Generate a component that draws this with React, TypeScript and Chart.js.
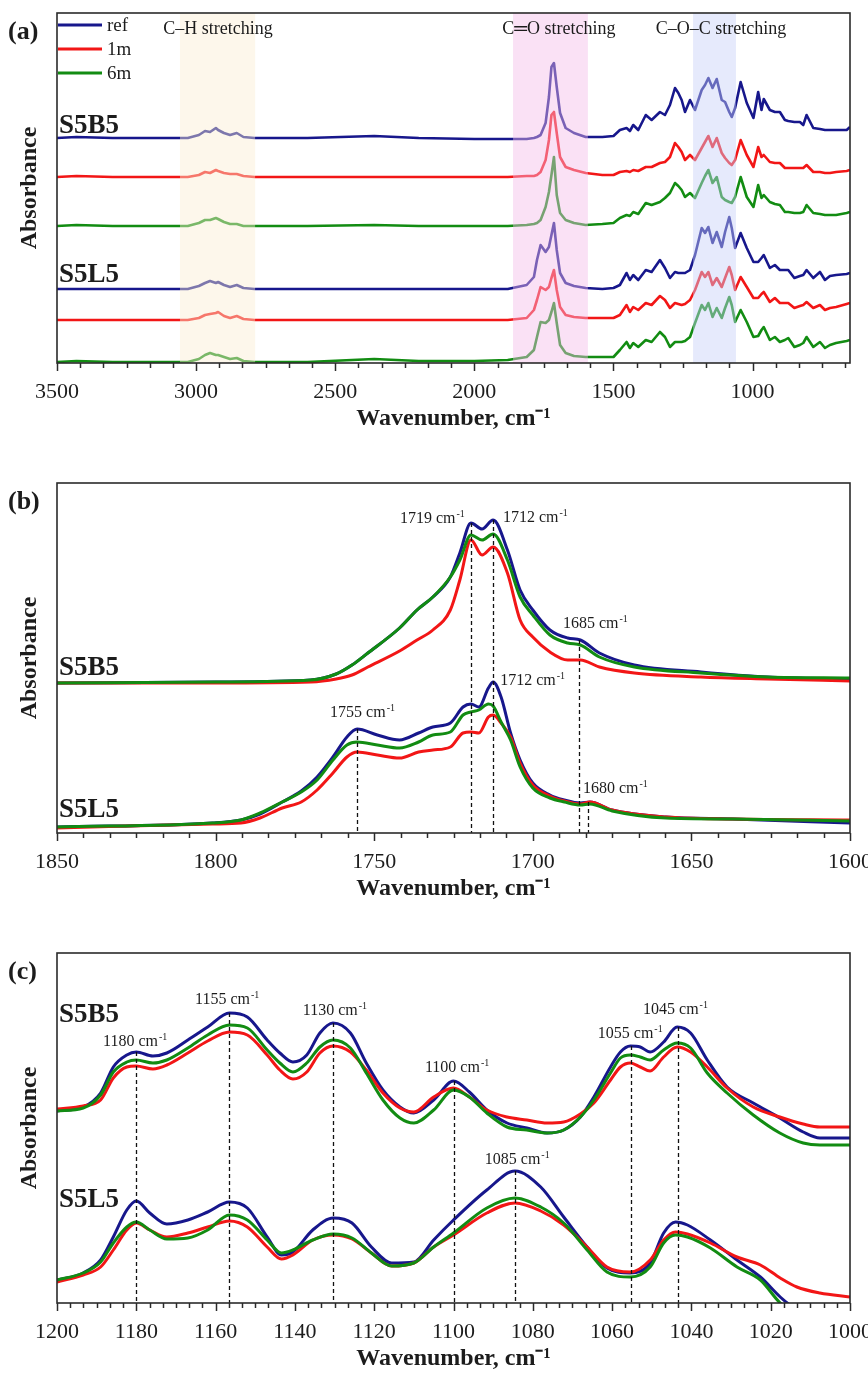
import React, { useEffect, useRef } from 'react';
import { Chart, registerables } from 'chart.js';

Chart.register(...registerables);

const SERIF = "'Liberation Serif', 'Times New Roman', Times, serif";
const INK = '#1c1c1c';

const SERIES_NAMES = ['ref', '1m', '6m'];
const SERIES_COLORS = ['#17178c', '#f21616', '#128c12'];

// ---------- Panel (a): full spectra ----------
const A_X = [3500, 3430, 3300, 3100, 3030, 2990, 2968, 2950, 2929, 2921, 2900, 2878, 2854, 2830, 2790, 2600, 2360, 2200, 2000, 1880, 1812, 1786, 1775, 1762, 1744, 1732, 1723, 1714, 1704, 1692, 1672, 1642, 1600, 1540, 1500, 1477, 1453, 1441, 1429, 1411, 1384, 1363, 1333, 1315, 1297, 1279, 1267, 1255, 1243, 1225, 1207, 1183, 1171, 1159, 1144, 1129, 1111, 1099, 1084, 1075, 1063, 1043, 1021, 997, 980, 968, 960, 938, 920, 902, 884, 872, 850, 830, 818, 806, 782, 758, 740, 722, 700, 662, 650];
const A_S5B5_REF = [2.25,2.26,2.25,2.25,2.25, 2.28,2.32,2.31,2.35,2.33, 2.30,2.28,2.30,2.26,2.25, 2.25,2.27,2.25,2.24,2.24, 2.24,2.25,2.26,2.28,2.40, 2.66,2.96,3.00,2.76,2.50, 2.35,2.30,2.26,2.26,2.27, 2.33,2.35,2.32,2.38,2.33, 2.48,2.43,2.51,2.48,2.58, 2.75,2.70,2.63,2.51,2.63, 2.53,2.73,2.78,2.85,2.75, 2.84,2.63,2.61,2.51,2.46, 2.55,2.81,2.60,2.45,2.71, 2.53,2.64,2.53,2.51,2.51, 2.43,2.42,2.41,2.41,2.38, 2.48,2.35,2.34,2.33,2.33, 2.33,2.33,2.36];
const A_S5B5_1M = [1.86,1.87,1.86,1.86,1.86, 1.88,1.91,1.90,1.93,1.92, 1.90,1.89,1.89,1.87,1.86, 1.86,1.86,1.86,1.86,1.86, 1.87,1.87,1.88,1.91,2.03, 2.23,2.48,2.51,2.30,2.06, 1.96,1.93,1.90,1.88,1.88, 1.91,1.92,1.91,1.93,1.92, 1.96,1.96,2.00,2.01,2.06, 2.20,2.16,2.11,2.03,2.08, 2.03,2.15,2.21,2.27,2.16, 2.25,2.10,2.05,2.00,1.98, 2.03,2.23,2.08,1.96,2.16, 2.06,2.08,2.01,2.00,2.00, 1.95,1.95,1.95,1.95,1.95, 1.98,1.91,1.91,1.90,1.90, 1.91,1.92,1.93];
const A_S5B5_6M = [1.37,1.38,1.37,1.37,1.37, 1.40,1.43,1.43,1.45,1.44, 1.41,1.39,1.39,1.37,1.37, 1.37,1.38,1.37,1.37,1.37, 1.38,1.39,1.40,1.43,1.56, 1.71,1.88,2.06,1.68,1.50, 1.43,1.40,1.38,1.39,1.40, 1.45,1.48,1.47,1.51,1.49, 1.60,1.58,1.61,1.65,1.70, 1.80,1.77,1.73,1.66,1.70, 1.65,1.80,1.87,1.93,1.80, 1.86,1.66,1.63,1.61,1.60, 1.66,1.86,1.66,1.56,1.78, 1.65,1.68,1.61,1.59,1.58, 1.51,1.51,1.50,1.50,1.51, 1.58,1.50,1.49,1.48,1.48, 1.48,1.50,1.51];
const A_S5L5_REF = [0.74,0.74,0.74,0.74,0.74, 0.77,0.80,0.82,0.80,0.81, 0.78,0.76,0.78,0.75,0.74, 0.74,0.74,0.74,0.74,0.74, 0.78,0.86,1.03,1.18,1.11, 1.16,1.28,1.40,1.13,0.90, 0.80,0.77,0.75,0.74,0.75, 0.78,0.90,0.83,0.88,0.83, 0.93,0.91,1.03,0.95,0.85, 0.91,0.90,0.90,0.90,0.93, 1.08,1.35,1.30,1.36,1.20, 1.31,1.16,1.31,1.46,1.35, 1.15,1.30,1.15,1.01,1.01, 1.05,1.08,0.95,0.98,0.93, 0.93,0.93,0.85,0.87,0.88, 0.93,0.85,0.91,0.83,0.87, 0.88,0.89,0.90];
const A_S5L5_1M = [0.43,0.43,0.43,0.43,0.43, 0.45,0.48,0.49,0.50,0.51, 0.47,0.45,0.47,0.44,0.43, 0.43,0.43,0.43,0.43,0.43, 0.45,0.53,0.63,0.76,0.73, 0.76,0.85,0.93,0.73,0.56, 0.48,0.46,0.45,0.45,0.45, 0.48,0.58,0.51,0.56,0.53, 0.60,0.58,0.67,0.63,0.55, 0.60,0.59,0.58,0.59,0.63, 0.73,0.91,0.86,0.91,0.78, 0.85,0.76,0.85,0.96,0.88, 0.73,0.86,0.76,0.65,0.65, 0.69,0.71,0.61,0.65,0.60, 0.60,0.60,0.55,0.57,0.58, 0.61,0.55,0.58,0.53,0.55, 0.56,0.59,0.60];
const A_S5L5_6M = [0.01,0.02,0.01,0.01,0.01, 0.04,0.08,0.10,0.08,0.08, 0.06,0.04,0.05,0.02,0.01, 0.01,0.04,0.02,0.02,0.03, 0.06,0.13,0.26,0.41,0.40, 0.43,0.51,0.60,0.40,0.18, 0.10,0.07,0.06,0.06,0.06, 0.13,0.21,0.15,0.20,0.16, 0.23,0.21,0.31,0.26,0.16, 0.21,0.21,0.21,0.22,0.26, 0.40,0.58,0.53,0.60,0.46, 0.55,0.45,0.55,0.66,0.58, 0.41,0.53,0.41,0.26,0.27, 0.33,0.36,0.23,0.26,0.21, 0.23,0.25,0.16,0.18,0.20, 0.26,0.16,0.21,0.15,0.18, 0.20,0.22,0.23];
const A_TICKS = [3500, 3000, 2500, 2000, 1500, 1000];
const A_BANDS = [
  { label: 'C–H stretching', from: 3058, to: 2788, labelAt: 2921, color: 'rgba(251,237,211,0.45)' },
  { label: 'C═O stretching', from: 1861, to: 1592, labelAt: 1696, color: 'rgba(244,188,233,0.45)' },
  { label: 'C–O–C stretching', from: 1214, to: 1060, labelAt: 1114, color: 'rgba(199,208,248,0.45)' },
];

// ---------- Panel (b): C=O region ----------
const B_X_S5B5 = [1850, 1800, 1770, 1762, 1757, 1752, 1742, 1736.5, 1731.5, 1726, 1723, 1719.5, 1716, 1712.5, 1708, 1704, 1700, 1694.6, 1689, 1685, 1679, 1668, 1647, 1626, 1600];
const B_S5B5_REF = [1.50,1.51,1.53,1.59,1.68,1.80,2.05,2.23,2.36,2.56,2.80,3.10,3.04,3.13,2.83,2.43,2.23,2.03,1.95,1.93,1.80,1.68,1.61,1.56,1.54];
const B_S5B5_1M = [1.50,1.50,1.51,1.54,1.58,1.66,1.82,1.93,2.03,2.23,2.53,2.93,2.78,2.86,2.60,2.13,1.96,1.81,1.73,1.73,1.66,1.60,1.56,1.54,1.52];
const B_S5B5_6M = [1.50,1.51,1.53,1.59,1.68,1.80,2.05,2.23,2.36,2.56,2.73,2.98,2.93,2.99,2.73,2.36,2.18,1.98,1.90,1.88,1.76,1.66,1.60,1.56,1.55];
const B_X_S5L5 = [1850, 1801, 1792, 1786, 1779, 1773, 1768, 1763, 1758.6, 1755.4, 1749, 1742, 1736, 1731.5, 1726, 1722, 1719.5, 1717, 1714, 1712.5, 1710, 1707, 1704, 1700, 1694.6, 1690, 1685, 1682, 1675, 1658, 1637, 1600];
const B_S5L5_REF = [0.06,0.10,0.13,0.19,0.31,0.42,0.56,0.76,0.96,1.04,0.98,0.93,1.00,1.06,1.10,1.26,1.29,1.26,1.45,1.51,1.36,1.00,0.73,0.50,0.38,0.33,0.30,0.31,0.23,0.16,0.14,0.10];
const B_S5L5_1M = [0.05,0.09,0.10,0.15,0.25,0.31,0.43,0.60,0.76,0.81,0.78,0.75,0.81,0.83,0.86,1.00,1.01,1.00,1.16,1.18,1.10,0.96,0.70,0.48,0.37,0.32,0.29,0.31,0.23,0.16,0.14,0.13];
const B_S5L5_6M = [0.06,0.10,0.13,0.20,0.31,0.41,0.53,0.73,0.88,0.91,0.88,0.85,0.91,0.98,1.01,1.18,1.21,1.23,1.29,1.27,1.11,0.93,0.66,0.45,0.35,0.31,0.28,0.29,0.22,0.15,0.14,0.12];
const B_TICKS = [1850, 1800, 1750, 1700, 1650, 1600];
const B_PEAK_LINES = [
  { w: 1719.5, top: 3.10 }, { w: 1712.4, top: 3.13 }, { w: 1685.3, top: 1.93 },
  { w: 1682.7, top: 0.31 }, { w: 1755.4, top: 1.04 },
];
const B_PEAK_LABELS = [
  { text: '1719', w: 1741.9, v: 3.15 }, { text: '1712', w: 1709.4, v: 3.16 },
  { text: '1685', w: 1690.5, v: 2.10 }, { text: '1712', w: 1710.3, v: 1.53 },
  { text: '1680', w: 1684.2, v: 0.45 }, { text: '1755', w: 1763.9, v: 1.21 },
];

// ---------- Panel (c): C–O–C region ----------
const C_X_S5B5 = [1200, 1193.4, 1189, 1185.8, 1182.4, 1180, 1175.8, 1172.3, 1167, 1162, 1156.5, 1152, 1147, 1143.8, 1140.5, 1137, 1133.7, 1130.4, 1126, 1122, 1117.8, 1113.5, 1110, 1105, 1100, 1096, 1091.6, 1086.5, 1081.5, 1076.4, 1072.2, 1068, 1064.6, 1060.4, 1057.9, 1055.4, 1052.9, 1050.4, 1047, 1043.6, 1040.2, 1036, 1031, 1024.4, 1017.7, 1011.8, 1007.6, 1000];
const C_S5B5_REF = [1.92,1.96,2.10,2.36,2.48,2.51,2.47,2.50,2.63,2.76,2.90,2.86,2.63,2.50,2.41,2.48,2.70,2.80,2.70,2.40,2.13,1.96,1.90,2.03,2.22,2.11,1.93,1.80,1.75,1.70,1.73,1.86,2.06,2.36,2.51,2.57,2.56,2.51,2.61,2.76,2.70,2.43,2.16,2.00,1.85,1.71,1.65,1.65];
const C_S5B5_1M = [1.94,1.97,2.03,2.25,2.36,2.37,2.34,2.38,2.50,2.62,2.71,2.68,2.48,2.33,2.24,2.31,2.50,2.57,2.51,2.33,2.10,1.95,1.91,2.06,2.15,2.06,1.93,1.86,1.83,1.80,1.81,1.89,2.00,2.23,2.36,2.40,2.36,2.32,2.46,2.56,2.51,2.36,2.15,1.96,1.86,1.79,1.76,1.76];
const C_S5B5_6M = [1.92,1.95,2.08,2.31,2.41,2.43,2.40,2.43,2.55,2.68,2.78,2.75,2.53,2.40,2.31,2.40,2.56,2.63,2.55,2.30,2.03,1.85,1.80,1.93,2.13,2.06,1.90,1.76,1.73,1.70,1.73,1.86,2.03,2.30,2.45,2.48,2.46,2.43,2.53,2.60,2.55,2.30,2.10,1.88,1.70,1.60,1.58,1.58];
const C_X_S5L5 = [1200, 1193.4, 1189, 1185.8, 1182.4, 1180, 1176.6, 1172.3, 1167, 1162, 1156.5, 1152, 1147, 1143.4, 1140.5, 1135.5, 1130.3, 1125.6, 1120.7, 1115.6, 1110, 1105, 1100, 1091.6, 1084.5, 1078, 1072.2, 1066.3, 1061.3, 1055.4, 1050.4, 1047, 1044, 1041, 1035.2, 1028.5, 1022.6, 1017.6, 1013.4, 1007.6, 1000];
const C_S5L5_REF = [0.23,0.30,0.43,0.66,0.93,1.02,0.90,0.79,0.83,0.91,1.01,0.95,0.66,0.48,0.51,0.73,0.85,0.80,0.56,0.40,0.41,0.63,0.83,1.13,1.32,1.16,0.86,0.56,0.35,0.30,0.40,0.70,0.81,0.78,0.63,0.43,0.26,0.06,-0.07,-0.19,-0.32];
const C_S5L5_1M = [0.21,0.28,0.36,0.53,0.73,0.80,0.73,0.66,0.70,0.76,0.82,0.76,0.56,0.44,0.48,0.63,0.68,0.64,0.50,0.37,0.40,0.56,0.68,0.90,1.00,0.92,0.78,0.56,0.36,0.31,0.43,0.63,0.71,0.69,0.60,0.46,0.38,0.25,0.16,0.10,0.06];
const C_S5L5_6M = [0.23,0.30,0.41,0.60,0.76,0.81,0.73,0.64,0.65,0.73,0.88,0.83,0.63,0.50,0.53,0.63,0.69,0.65,0.50,0.37,0.40,0.56,0.70,0.95,1.05,0.96,0.80,0.53,0.31,0.26,0.36,0.60,0.68,0.66,0.55,0.36,0.23,0.00,-0.12,-0.24,-0.37];
const C_TICKS = [1200, 1180, 1160, 1140, 1120, 1100, 1080, 1060, 1040, 1020, 1000];
const C_PEAK_LINES = [
  { w: 1180, top: 2.51 }, { w: 1156.5, top: 2.90 }, { w: 1130.3, top: 2.80 }, { w: 1100, top: 2.22 },
  { w: 1084.5, top: 1.32 }, { w: 1055.2, top: 2.57 }, { w: 1043.5, top: 2.76 },
];
const C_PEAK_LABELS = [
  { text: '1180', w: 1188.4, v: 2.62 }, { text: '1155', w: 1165.2, v: 3.04 }, { text: '1130', w: 1138.0, v: 2.93 },
  { text: '1100', w: 1107.2, v: 2.36 }, { text: '1085', w: 1092.1, v: 1.44 }, { text: '1055', w: 1063.6, v: 2.70 },
  { text: '1045', w: 1052.2, v: 2.94 },
];

type Group = { sample: string; x: number[]; values: number[][]; labelV: number };
type Spec = {
  letter: string; min: number; max: number; ticks: number[]; lineWidth: number; smooth: boolean;
  groups: Group[]; bands?: typeof A_BANDS; legend?: boolean;
  lines?: { w: number; top: number }[]; labels?: { text: string; w: number; v: number }[];
};

const PANELS: Spec[] = [
  {
    letter: '(a)', min: 650, max: 3500, ticks: A_TICKS, lineWidth: 2.6, smooth: false, bands: A_BANDS, legend: true,
    groups: [
      { sample: 'S5B5', x: A_X, values: [A_S5B5_REF, A_S5B5_1M, A_S5B5_6M], labelV: 2.37 },
      { sample: 'S5L5', x: A_X, values: [A_S5L5_REF, A_S5L5_1M, A_S5L5_6M], labelV: 0.88 },
    ],
  },
  {
    letter: '(b)', min: 1600, max: 1850, ticks: B_TICKS, lineWidth: 3, smooth: true,
    lines: B_PEAK_LINES, labels: B_PEAK_LABELS,
    groups: [
      { sample: 'S5B5', x: B_X_S5B5, values: [B_S5B5_REF, B_S5B5_1M, B_S5B5_6M], labelV: 1.65 },
      { sample: 'S5L5', x: B_X_S5L5, values: [B_S5L5_REF, B_S5L5_1M, B_S5L5_6M], labelV: 0.23 },
    ],
  },
  {
    letter: '(c)', min: 1000, max: 1200, ticks: C_TICKS, lineWidth: 3, smooth: true,
    lines: C_PEAK_LINES, labels: C_PEAK_LABELS,
    groups: [
      { sample: 'S5B5', x: C_X_S5B5, values: [C_S5B5_REF, C_S5B5_1M, C_S5B5_6M], labelV: 2.88 },
      { sample: 'S5L5', x: C_X_S5L5, values: [C_S5L5_REF, C_S5L5_1M, C_S5L5_6M], labelV: 1.03 },
    ],
  },
];

function drawSup(ctx: CanvasRenderingContext2D, base: string, sup: string, left: number, cy: number, size: number) {
  ctx.textAlign = 'left';
  ctx.textBaseline = 'alphabetic';
  ctx.font = `${size}px ${SERIF}`;
  const w1 = ctx.measureText(base).width;
  const baseY = cy + size * 0.33;
  ctx.fillText(base, left, baseY);
  ctx.font = `${Math.round(size * 0.62)}px ${SERIF}`;
  ctx.fillText(sup, left + w1 + 1, baseY - size * 0.4);
}

function makeDecor(spec: Spec) {
  return {
    id: 'decor',
    afterDatasetsDraw(chart: any) {
      const { ctx, chartArea: ca } = chart;
      const xs = chart.scales.x, ys = chart.scales.y;
      ctx.save();
      ctx.beginPath();
      ctx.rect(ca.left, ca.top, ca.right - ca.left, ca.bottom - ca.top);
      ctx.clip();
      (spec.bands || []).forEach((b) => {
        const x1 = xs.getPixelForValue(b.from), x2 = xs.getPixelForValue(b.to);
        ctx.fillStyle = b.color;
        ctx.fillRect(Math.min(x1, x2), ca.top, Math.abs(x2 - x1), ca.bottom - ca.top);
      });
      ctx.setLineDash([4, 3]);
      ctx.lineWidth = 1.3;
      ctx.strokeStyle = '#111';
      (spec.lines || []).forEach((l) => {
        const px = Math.round(xs.getPixelForValue(l.w)) + 0.5;
        ctx.beginPath();
        ctx.moveTo(px, ys.getPixelForValue(l.top));
        ctx.lineTo(px, ca.bottom);
        ctx.stroke();
      });
      ctx.restore();
    },
    afterDraw(chart: any) {
      const { ctx, chartArea: ca } = chart;
      const xs = chart.scales.x, ys = chart.scales.y;
      ctx.save();
      ctx.strokeStyle = '#2b2b2b';
      ctx.lineWidth = 1.6;
      ctx.strokeRect(ca.left, ca.top, ca.right - ca.left, ca.bottom - ca.top);
      const step = Math.abs(spec.ticks[1] - spec.ticks[0]) / 6;
      ctx.lineWidth = 1.5;
      for (let k = 0; ; k++) {
        const v = spec.max - k * step;
        if (v < spec.min - 1e-6) break;
        const px = Math.round(xs.getPixelForValue(v)) + 0.5;
        const len = k % 6 === 0 ? 8 : 5;
        ctx.beginPath();
        ctx.moveTo(px, ca.bottom);
        ctx.lineTo(px, ca.bottom + len);
        ctx.stroke();
      }
      ctx.fillStyle = INK;
      ctx.font = `bold 26px ${SERIF}`;
      ctx.textAlign = 'left';
      ctx.textBaseline = 'middle';
      ctx.fillText(spec.letter, 8, ca.top + 19);
      ctx.font = `bold 27px ${SERIF}`;
      spec.groups.forEach((g) => {
        ctx.fillText(g.sample, ca.left + 2, ys.getPixelForValue(g.labelV));
      });
      if (spec.legend) {
        SERIES_NAMES.forEach((name, i) => {
          const yy = ca.top + 12 + i * 24;
          ctx.strokeStyle = SERIES_COLORS[i];
          ctx.lineWidth = 3;
          ctx.beginPath();
          ctx.moveTo(ca.left + 1, yy);
          ctx.lineTo(ca.left + 45, yy);
          ctx.stroke();
          ctx.fillStyle = INK;
          ctx.font = `19px ${SERIF}`;
          ctx.fillText(name, ca.left + 50, yy + 1);
        });
      }
      ctx.font = `18px ${SERIF}`;
      ctx.textAlign = 'center';
      (spec.bands || []).forEach((b) => {
        ctx.fillText(b.label, xs.getPixelForValue(b.labelAt), ys.getPixelForValue(3.34));
      });
      (spec.labels || []).forEach((l) => {
        drawSup(ctx, `${l.text} cm`, '-1', xs.getPixelForValue(l.w), ys.getPixelForValue(l.v), 16);
      });
      ctx.restore();
    },
  };
}

function buildConfig(spec: Spec): any {
  const datasets: any[] = [];
  spec.groups.forEach((g) => {
    g.values.forEach((vals, k) => {
      datasets.push({
        label: `${g.sample} ${SERIES_NAMES[k]}`,
        data: g.x.map((w, i) => ({ x: w, y: vals[i] })),
        borderColor: SERIES_COLORS[k],
        borderWidth: spec.lineWidth,
        pointRadius: 0,
        fill: false,
        tension: 0,
        cubicInterpolationMode: spec.smooth ? 'monotone' : 'default',
        borderJoinStyle: 'round',
        order: 2 - k,
      });
    });
  });
  return {
    type: 'line',
    data: { datasets },
    options: {
      animation: false,
      responsive: false,
      events: [],
      layout: { padding: { top: 13, right: 18, left: 0, bottom: 0 }, autoPadding: false },
      plugins: { legend: { display: false }, tooltip: { enabled: false } },
      scales: {
        x: {
          type: 'linear',
          reverse: true,
          min: spec.min,
          max: spec.max,
          afterBuildTicks: (s: any) => { s.ticks = spec.ticks.map((v) => ({ value: v })); },
          afterFit: (s: any) => { s.height = 107; s.paddingLeft = 0; s.paddingRight = 0; },
          grid: { display: false, drawTicks: false },
          border: { display: false },
          ticks: {
            font: { family: SERIF, size: 22 },
            color: INK,
            padding: 16,
            maxRotation: 0,
            autoSkip: false,
            callback: (v: any) => String(v),
          },
          title: {
            display: true,
            text: 'Wavenumber, cm⁻¹',
            font: { family: SERIF, size: 24, weight: 'bold' },
            color: INK,
            padding: { top: 0, bottom: 37 },
          },
        },
        y: {
          type: 'linear',
          min: 0,
          max: 3.5,
          afterFit: (s: any) => { s.width = 57; },
          ticks: { display: false },
          grid: { display: false, drawTicks: false },
          border: { display: false },
          title: {
            display: true,
            text: 'Absorbance',
            font: { family: SERIF, size: 24, weight: 'bold' },
            color: INK,
            padding: { top: 15, bottom: 0 },
          },
        },
      },
    },
    plugins: [makeDecor(spec)],
  };
}

export default function App() {
  const refA = useRef<HTMLCanvasElement>(null);
  const refB = useRef<HTMLCanvasElement>(null);
  const refC = useRef<HTMLCanvasElement>(null);

  useEffect(() => {
    document.body.style.margin = '0';
    Chart.defaults.font.family = SERIF;
    const canvases = [refA.current, refB.current, refC.current];
    const charts = canvases.map((c, i) => new Chart(c as HTMLCanvasElement, buildConfig(PANELS[i])));
    return () => charts.forEach((ch) => ch.destroy());
  }, []);

  const cs: React.CSSProperties = { position: 'absolute', left: 0, width: 868, height: 470 };
  return (
    <div style={{ position: 'relative', width: 868, height: 1374, overflow: 'hidden', background: '#fff' }}>
      <canvas ref={refA} width={868} height={470} style={{ ...cs, top: 0 }} />
      <canvas ref={refB} width={868} height={470} style={{ ...cs, top: 470 }} />
      <canvas ref={refC} width={868} height={470} style={{ ...cs, top: 940 }} />
    </div>
  );
}
